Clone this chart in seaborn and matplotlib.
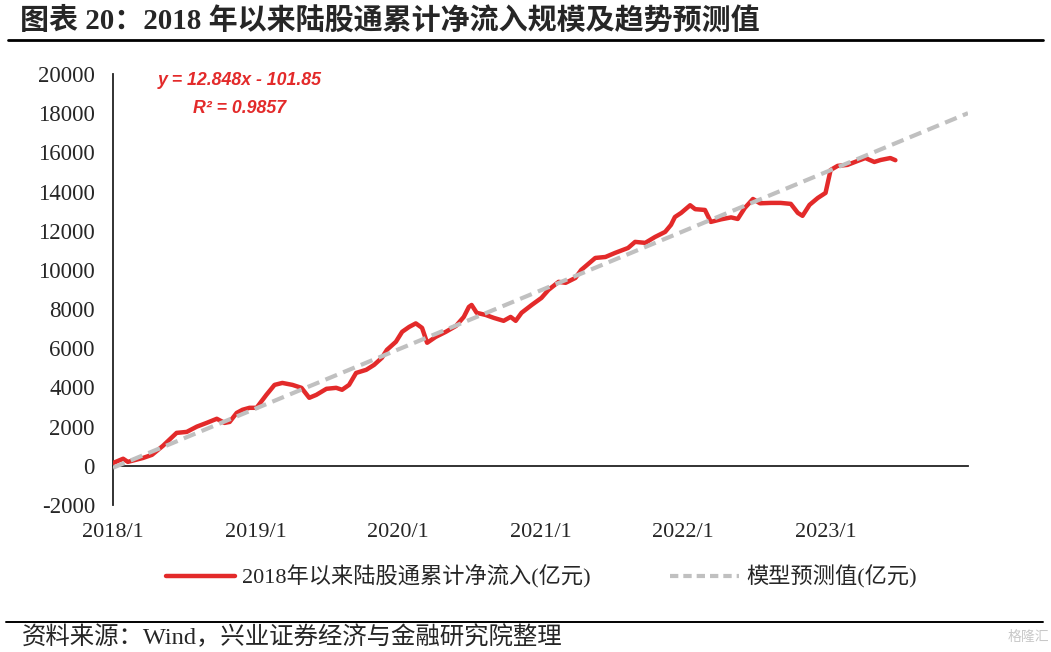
import numpy as np
import pandas as pd
import matplotlib
matplotlib.use("Agg")
import matplotlib.pyplot as plt
import seaborn as sns
from matplotlib.lines import Line2D

# ---------------- data ----------------
flow_dates = [
    "2018-01-02", "2018-01-27", "2018-02-08", "2018-03-19", "2018-04-11", "2018-05-09",
    "2018-06-13", "2018-07-09", "2018-08-04", "2018-08-29", "2018-09-24", "2018-10-14",
    "2018-10-27", "2018-11-14", "2018-11-29", "2018-12-17", "2019-01-04", "2019-01-29",
    "2019-02-19", "2019-03-11", "2019-04-06", "2019-04-29", "2019-05-19", "2019-06-06",
    "2019-07-02", "2019-07-27", "2019-08-11", "2019-08-29", "2019-09-16", "2019-10-12",
    "2019-11-01", "2019-11-21", "2019-12-04", "2019-12-27", "2020-01-12", "2020-01-30",
    "2020-02-16", "2020-03-03", "2020-03-16", "2020-04-07", "2020-05-03", "2020-05-29",
    "2020-06-18", "2020-07-01", "2020-07-08", "2020-07-21", "2020-08-13", "2020-09-03",
    "2020-09-28", "2020-10-16", "2020-10-29", "2020-11-13", "2020-12-09", "2021-01-03",
    "2021-01-21", "2021-02-16", "2021-03-06", "2021-03-31", "2021-04-15", "2021-05-21",
    "2021-06-16", "2021-07-11", "2021-08-13", "2021-08-31", "2021-09-26", "2021-10-21",
    "2021-11-16", "2021-12-01", "2021-12-11", "2021-12-27", "2022-01-19", "2022-02-01",
    "2022-02-26", "2022-03-13", "2022-04-08", "2022-05-04", "2022-05-21", "2022-06-08",
    "2022-06-29", "2022-07-17", "2022-08-14", "2022-09-08", "2022-10-04", "2022-10-22",
    "2022-11-03", "2022-11-21", "2022-12-12", "2023-01-01", "2023-01-14", "2023-02-01",
    "2023-02-26", "2023-03-24", "2023-04-13", "2023-05-06", "2023-05-22", "2023-06-16",
    "2023-06-29",
]
flow_values = [
    150, 360, 200, 400, 560, 1020,
    1680, 1730, 2000, 2190, 2400, 2190,
    2240, 2700, 2860, 2960, 2960, 3620,
    4130, 4230, 4130, 3980, 3470, 3620,
    3930, 3980, 3880, 4130, 4740, 4900,
    5150, 5510, 5920, 6330, 6840, 7090,
    7270, 7040, 6280, 6580, 6840, 7140,
    7600, 8110, 8210, 7810, 7700, 7550,
    7400, 7600, 7400, 7810, 8210, 8570,
    8980, 9390, 9340, 9590, 10000, 10610,
    10660, 10870, 11120, 11430, 11380, 11680,
    11940, 12300, 12700, 12910, 13300, 13100,
    13060, 12450, 12580, 12680, 12600, 13160,
    13620, 13400, 13420, 13420, 13370, 12910,
    12760, 13320, 13670, 13930, 15100, 15310,
    15360, 15560, 15710, 15510, 15610, 15710,
    15600,
]
model_dates = ["2018-01-01", "2024-01-01"]
model_values = [-100, 18000]

tick_dates = ["2018-01-01", "2019-01-01", "2020-01-01", "2021-01-01", "2022-01-01", "2023-01-01"]
tick_labels = ["2018/1", "2019/1", "2020/1", "2021/1", "2022/1", "2023/1"]
y_ticks = list(range(-2000, 20001, 2000))

name_flow = "2018年以来陆股通累计净流入(亿元)"
name_model = "模型预测值(亿元)"
title = "图表 20\uff1a2018 年以来陆股通累计净流入规模及趋势预测值"
source = "资料来源\uff1aWind\uff0c兴业证券经济与金融研究院整理"
eq1 = "y = 12.848x - 101.85"
eq2 = "R² = 0.9857"

# ---------------- plot ----------------
sns.set_style("white")
plt.rcParams["font.family"] = ["Liberation Serif", "Noto Sans CJK SC", "DejaVu Sans"]
plt.rcParams["axes.unicode_minus"] = False

df_flow = pd.DataFrame({"date": pd.to_datetime(flow_dates), "value": flow_values, "series": name_flow})
df_model = pd.DataFrame({"date": pd.to_datetime(model_dates), "value": model_values, "series": name_model})

fig = plt.figure(figsize=(10.51, 6.52), dpi=100)
ax = fig.add_axes([0.1075, 0.2255, 0.8135, 0.661])

red = "#E32A2A"
grey = "#C0C0C0"

sns.lineplot(data=df_flow, x="date", y="value", color=red, linewidth=3.2, ax=ax,
             label=name_flow, zorder=3)
sns.lineplot(data=df_model, x="date", y="value", color=grey, linewidth=3.0, ax=ax,
             label=name_model, zorder=4, dashes=False)
ax.lines[-1].set_linestyle((0, (3, 1.6)))

ax.set_xlim(pd.Timestamp("2018-01-01"), pd.Timestamp("2024-01-01"))
ax.set_ylim(-2000, 20000)
ax.set_yticks(y_ticks)
ax.set_yticklabels([str(v) for v in y_ticks])
ax.set_xticks(pd.to_datetime(tick_dates))
ax.set_xticklabels(tick_labels)
ax.set_xlabel("")
ax.set_ylabel("")

for s in ["top", "right"]:
    ax.spines[s].set_visible(False)
ax.spines["bottom"].set_position(("data", 0))
for s in ["left", "bottom"]:
    ax.spines[s].set_color("#222222")
    ax.spines[s].set_linewidth(1.3)

ax.tick_params(axis="y", direction="in", length=5, width=1.2, color="#222222",
               labelsize=16.5, pad=13)
ax.tick_params(axis="x", direction="in", length=5, width=1.2, color="#222222",
               labelsize=16, pad=41)
ax.grid(False)

ax.text(0.1485, 0.986, eq1, transform=ax.transAxes, ha="center", va="center",
        color=red, fontsize=12.8, fontweight="bold", fontstyle="italic",
        family=["Liberation Sans"])
ax.text(0.1485, 0.919, eq2, transform=ax.transAxes, ha="center", va="center",
        color=red, fontsize=12.8, fontweight="bold", fontstyle="italic",
        family=["Liberation Sans"])

leg = ax.legend(loc="center", bbox_to_anchor=(0.515, 0.115), bbox_transform=fig.transFigure,
                ncol=2, frameon=False, fontsize=16, handlelength=3.1,
                handletextpad=0.3, columnspacing=3.6)
leg.legend_handles[1].set_linestyle((0, (2, 1.2)))

fig.text(0.019, 0.969, title, ha="left", va="center", fontsize=20.9, fontweight="bold")
fig.add_artist(Line2D([0.008, 0.992], [0.938, 0.938], transform=fig.transFigure,
                      color="black", linewidth=2.0))
fig.add_artist(Line2D([0.006, 0.992], [1 - 622 / 652, 1 - 622 / 652], transform=fig.transFigure,
                      color="black", linewidth=1.4))
fig.text(0.021, 1 - 637 / 652, source, ha="left", va="center", fontsize=17.6)
fig.text(0.998, 1 - 637 / 652, "格隆汇", ha="right", va="center", fontsize=10,
         color="#C8C8C8", family=["Noto Sans CJK SC"])

fig.savefig("out.png", dpi=100)
